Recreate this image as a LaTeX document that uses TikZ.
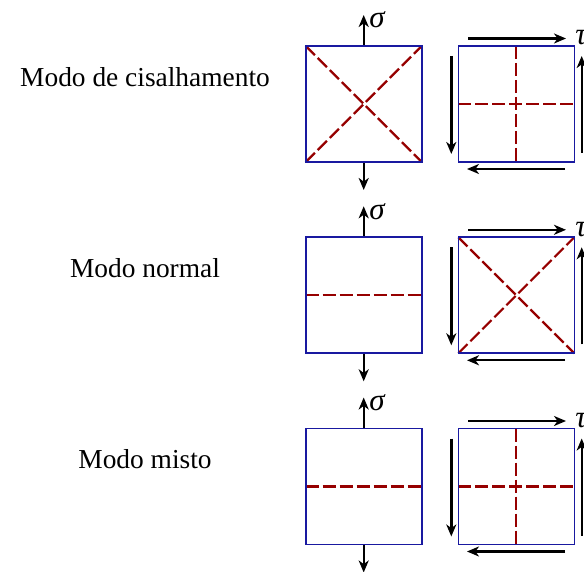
\documentclass[tikz,border=0pt]{standalone}
\usepackage{fontspec}
\setmainfont{Liberation Serif}
\usetikzlibrary{arrows.meta}
\definecolor{sqblue}{RGB}{25,25,160}
\definecolor{crackred}{RGB}{150,0,0}
\begin{document}
\begin{tikzpicture}[x=0.5pt,y=-0.5pt,
  sq/.style={draw=sqblue,line width=0.8pt,minimum size=58pt,inner sep=0pt,outer sep=0pt},
  crack/.style={draw=crackred,line width=1.1pt,dash pattern=on 6.5pt off 2pt},
  force/.style={line width=1.2pt,-{Stealth[length=6pt,width=5pt,inset=1.8pt]}},
  lbl/.style={font=\fontsize{13.7}{16}\selectfont},
  sym/.style={font=\fontsize{15.5}{18}\selectfont\itshape,inner sep=0pt}]
\useasboundingbox (0,0) rectangle (584,572);
\clip (0,0) rectangle (584,572);
\foreach \r/\cy/\txt in {1/104/Modo de cisalhamento,2/295.3/Modo normal,3/486.5/Modo misto}{
  \node[sq] (L\r) at (363.7,\cy) {};
  \node[sq] (R\r) at (516.3,\cy) {};
  \node[lbl] (T\r) at (145,\cy-27) {\txt};
  \coordinate (su\r) at (363.7,\cy-89);
  \coordinate (sd\r) at (363.7,\cy+86);
  \draw[force] (L\r.north) -- (su\r);
  \draw[force] (L\r.south) -- (sd\r);
  \node[sym,anchor=west] (sig\r) at (369,\cy-84) {σ};
  \coordinate (ta\r) at (468,\cy-65.5);
  \coordinate (tb\r) at (566,\cy-65.5);
  \coordinate (ba\r) at (565,\cy+65);
  \coordinate (bb\r) at (467,\cy+65);
  \coordinate (la\r) at (451.3,\cy-48);
  \coordinate (lb\r) at (451.3,\cy+50);
  \coordinate (ra\r) at (581.7,\cy+49);
  \coordinate (rb\r) at (581.7,\cy-48);
  \draw[force] (ta\r) -- (tb\r);
  \draw[force] (ba\r) -- (bb\r);
  \draw[force] (la\r) -- (lb\r);
  \draw[force] (ra\r) -- (rb\r);
  \node[sym,anchor=west] (tau\r) at (575,\cy-66) {τ};
}
% cracks
\draw[crack] (L1.north west) -- (L1.south east);
\draw[crack] (L1.south west) -- (L1.north east);
\draw[crack] (R1.west) -- (R1.east);
\draw[crack] (R1.north) -- (R1.south);
\draw[crack] (L2.west) -- (L2.east);
\draw[crack] (R2.north west) -- (R2.south east);
\draw[crack] (R2.south west) -- (R2.north east);
\draw[crack] (L3.west) -- (L3.east);
\draw[crack] (R3.west) -- (R3.east);
\draw[crack] (R3.north) -- (R3.south);
\foreach \r in {1,2,3}{
  \draw[sqblue,line width=0.8pt] (L\r.north west) rectangle (L\r.south east);
  \draw[sqblue,line width=0.8pt] (R\r.north west) rectangle (R\r.south east);
}
\end{tikzpicture}
\end{document}
